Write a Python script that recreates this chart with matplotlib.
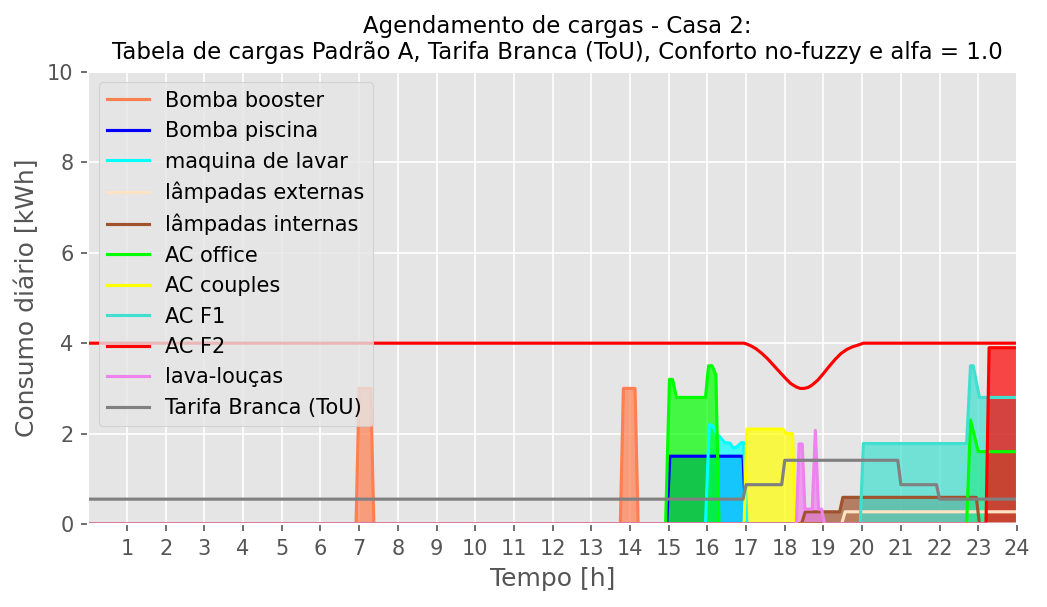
import matplotlib
matplotlib.use("Agg")
import matplotlib.pyplot as plt

plt.style.use("ggplot")

# breakpoints (hour, kWh)
booster_t = [0, 6.92, 7.0, 7.3, 7.38, 13.75, 13.83, 14.13, 14.21, 24]
booster_v = [0, 0, 3.0, 3.0, 0, 0, 3.0, 3.0, 0, 0]

piscina_t = [0, 14.95, 15.03, 16.92, 17.0, 24]
piscina_v = [0, 0, 1.5, 1.5, 0, 0]

lavar_t = [0, 15.95, 16.05, 16.14, 16.24, 16.32, 16.45, 16.58, 16.67, 16.75, 16.88, 16.94, 17.02, 24]
lavar_v = [0, 0, 2.2, 2.17, 1.99, 1.93, 1.8, 1.79, 1.68, 1.7, 1.8, 1.8, 0, 0]

lamp_ext_t = [0, 19.47, 19.56, 24]
lamp_ext_v = [0, 0, 0.27, 0.27]

lamp_int_t = [0, 18.43, 18.53, 19.42, 19.5, 22.95, 23.03, 24]
lamp_int_v = [0, 0, 0.27, 0.27, 0.59, 0.59, 0, 0]

office_t = [0, 14.92, 15.02, 15.1, 15.2, 15.95, 16.03, 16.12, 16.22, 16.3, 22.7, 22.8, 23.0, 24]
office_v = [0, 0, 3.2, 3.2, 2.8, 2.8, 3.5, 3.5, 3.3, 0, 0, 2.3, 1.6, 1.6]

couples_t = [0, 16.95, 17.02, 17.95, 18.03, 18.2, 18.27, 24]
couples_v = [0, 0, 2.1, 2.1, 2.0, 2.0, 0, 0]

f1_t = [0, 19.95, 20.03, 22.7, 22.8, 22.87, 23.03, 24]
f1_v = [0, 0, 1.78, 1.78, 3.5, 3.5, 2.8, 2.8]

f2_t = [0, 23.2, 23.28, 24]
f2_v = [0, 0, 3.9, 3.9]

louca_t = [0, 18.3, 18.37, 18.45, 18.52, 18.71, 18.79, 18.87, 18.95, 19.03, 24]
louca_v = [0, 0, 1.77, 1.77, 0.33, 0.33, 2.07, 0.33, 0.33, 0, 0]

tarifa_t = [0, 16.92, 17.0, 17.92, 18.0, 20.92, 21.0, 21.92, 22.0, 24]
tarifa_v = [0.55, 0.55, 0.87, 0.87, 1.41, 1.41, 0.87, 0.87, 0.55, 0.55]

# red reference curve (AC F2 limit)
limite_t = [0, 16.95, 17.05, 17.15, 17.25, 17.4, 17.55, 17.7, 17.85, 18.0, 18.15, 18.3, 18.4,
            18.5, 18.6, 18.7, 18.85, 19.0, 19.15, 19.3, 19.45, 19.6, 19.75, 19.9, 20.03, 24]
limite_v = [4.0, 4.0, 3.97, 3.93, 3.88, 3.78, 3.66, 3.52, 3.38, 3.24, 3.11, 3.03, 3.0,
            3.0, 3.02, 3.07, 3.18, 3.33, 3.49, 3.64, 3.77, 3.86, 3.92, 3.96, 4.0, 4.0]

cargas = [
    ("Bomba booster", booster_t, booster_v, "coral"),
    ("Bomba piscina", piscina_t, piscina_v, "blue"),
    ("maquina de lavar", lavar_t, lavar_v, "cyan"),
    ("lâmpadas externas", lamp_ext_t, lamp_ext_v, "bisque"),
    ("lâmpadas internas", lamp_int_t, lamp_int_v, "sienna"),
    ("AC office", office_t, office_v, "lime"),
    ("AC couples", couples_t, couples_v, "yellow"),
    ("AC F1", f1_t, f1_v, "turquoise"),
    ("AC F2", f2_t, f2_v, "red"),
    ("lava-louças", louca_t, louca_v, "violet"),
]

fig = plt.figure(figsize=(6.98, 4.047), dpi=150)
ax = fig.add_axes([0.0843, 0.1367, 0.887, 0.7447])

ax.plot(limite_t, limite_v, color="red", lw=1.5)
for nome, t, v, cor in cargas:
    ax.plot(t, v, color=cor, lw=1.5, label=nome)
    ax.fill_between(t, v, color=cor, alpha=0.7)
ax.plot(tarifa_t, tarifa_v, color="gray", lw=1.5, label="Tarifa Branca (ToU)")

ax.set_xlim(0, 24)
ax.set_ylim(0, 10)
ax.set_xticks(range(1, 25))
ax.set_yticks(range(0, 11, 2))
ax.tick_params(labelsize=10)
ax.set_xlabel("Tempo [h]", fontsize=12)
ax.set_ylabel("Consumo diário [kWh]", fontsize=12)
ax.set_title("Agendamento de cargas - Casa 2:\nTabela de cargas Padrão A, Tarifa Branca (ToU), "
             "Conforto no-fuzzy e alfa = 1.0", fontsize=11, x=0.5054)
ax.legend(loc="upper left", fontsize=10)

fig.savefig("out.png", dpi=150)
